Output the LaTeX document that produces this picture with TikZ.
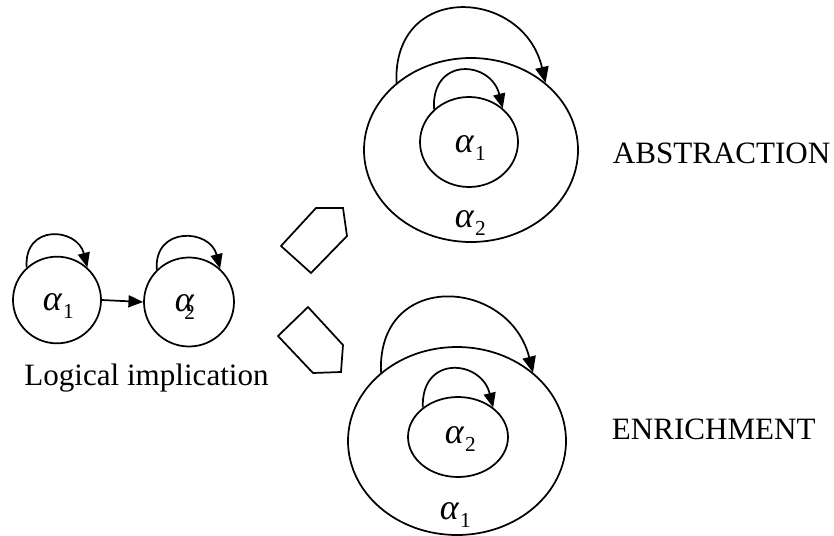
\documentclass[tikz,border=0pt]{standalone}
\usepackage{fontspec}
\setmainfont{Liberation Serif}
\usetikzlibrary{arrows.meta,shapes.geometric}
\newcommand{\alsub}[2]{{\fontsize{27pt}{30pt}\selectfont\itshape α}\kern#2\raisebox{-6pt}{\fontsize{16pt}{18pt}\selectfont #1}}
\begin{document}
\begin{tikzpicture}[x=0.75pt,y=-0.75pt,line width=1.3pt,
  every node/.style={font=\fontsize{23.3pt}{28pt}\selectfont},
  stateshape/.style={draw,ellipse,inner sep=0pt,line width=1.3pt},
  lbl/.style={anchor=base west,inner sep=0pt},
  loopsmall/.style={-{Triangle[length=11pt,width=9pt]}},
  loopbig/.style={-{Triangle[length=12pt,width=10pt]}}]
\useasboundingbox (0,0) rectangle (834,535);

% left pair
\node[stateshape,minimum width=66pt,minimum height=65pt] (c1) at (57,300) {};
\node[stateshape,minimum width=67.5pt,minimum height=66.75pt] (c2) at (189,302) {};
\node[lbl] (l1) at (42,310) {\alsub{1}{1pt}};
\node[lbl] (l2) at (174,311) {\alsub{2}{-7pt}};
\draw[loopsmall] (c1.133) .. controls +(-3,-44) and +(-10,-40) .. (c1.47);
\draw[loopsmall] (c2.135) .. controls +(-3,-44) and +(-10,-40) .. (c2.47);
\draw[loopsmall] (c1.east) -- (c2.west);
\node[anchor=base,inner sep=0pt] (li) at (146.5,385) {Logical implication};

% pentagons
\draw (316,208) -- (343,208) -- (347,236) -- (311,273) -- (281,246) -- cycle;
\draw (308,307) -- (278,336) -- (313,373) -- (341,372) -- (343,345) -- cycle;

% abstraction
\node[stateshape,minimum width=160.5pt,minimum height=138pt] (ao) at (471,150) {};
\node[stateshape,minimum width=73.5pt,minimum height=67.5pt] (ai) at (469,142) {};
\node[lbl] (la1) at (454,152) {\alsub{1}{1pt}};
\node[lbl] (la2) at (454,227) {\alsub{2}{1pt}};
\draw[loopbig] (ao.138) .. controls +(-4,-102) and +(-22,-95) .. (ao.42);
\draw[loopsmall] (ai.137) .. controls +(-3,-53) and +(-12,-48) .. (ai.45);
\node[lbl] (abs) at (612,163) {ABSTRACTION};

% enrichment
\node[stateshape,minimum width=163.5pt,minimum height=141pt] (eo) at (457,441) {};
\node[stateshape,minimum width=75pt,minimum height=60pt] (ei) at (458,437) {};
\node[lbl] (le2) at (444,443) {\alsub{2}{1pt}};
\node[lbl] (le1) at (439,519) {\alsub{1}{1pt}};
\draw[loopbig] (eo.138) .. controls +(-4,-103) and +(-24,-95) .. (eo.42);
\draw[loopsmall] (ei.140) .. controls +(-2,-53) and +(-12,-48) .. (ei.40);
\node[lbl] (enr) at (611,439) {ENRICHMENT};
\end{tikzpicture}
\end{document}
